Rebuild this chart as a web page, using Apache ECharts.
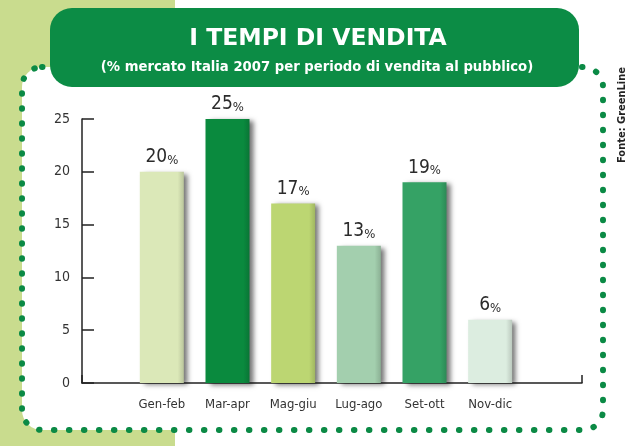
<!DOCTYPE html>
<html>
<head>
<meta charset="utf-8">
<script src="https://cdn.jsdelivr.net/npm/echarts@6/dist/echarts.min.js"></script>
<style>
  html, body { margin: 0; padding: 0; background: #fff; }
  #chart { width: 640px; height: 446px; }
</style>
</head>
<body>
<div id="chart"></div>
<script>
const categories = ['Gen-feb', 'Mar-apr', 'Mag-giu', 'Lug-ago', 'Set-ott', 'Nov-dic'];
const shares = [20, 25, 17, 13, 19, 6];
const barColors = ['#dbe8b8', '#0a8a3e', '#bcd672', '#a3cfae', '#35a265', '#dcede0'];
const yMax = 25;
const yStep = 5;

const narrow = '"DejaVu Sans Condensed", sans-serif';
const darkGreen = '#0b8a45';

// darken a hex colour a little for the right edge of each bar
const shade = (hex, f) => {
  const n = parseInt(hex.slice(1), 16);
  const c = [(n >> 16) & 255, (n >> 8) & 255, n & 255].map((v) => Math.round(v * f));
  return 'rgb(' + c.join(',') + ')';
};

const barData = shares.map((v, i) => ({
  value: v,
  itemStyle: {
    color: {
      type: 'linear', x: 0, y: 0, x2: 1, y2: 0,
      colorStops: [
        { offset: 0, color: barColors[i] },
        { offset: 0.86, color: barColors[i] },
        { offset: 1, color: shade(barColors[i], 0.85) }
      ]
    }
  }
}));

const chart = echarts.init(document.getElementById('chart'));

chart.setOption({
  animation: false,
  title: [
    {
      text: 'I TEMPI DI VENDITA',
      left: 313,
      top: 22,
      textAlign: 'center',
      textStyle: { color: '#fff', fontSize: 23.5, fontWeight: 'bold', fontFamily: '"DejaVu Sans", sans-serif' }
    },
    {
      text: '(% mercato Italia 2007 per periodo di vendita al pubblico)',
      left: 312,
      top: 55,
      textAlign: 'center',
      textStyle: { color: '#fff', fontSize: 14.7, fontWeight: 'bold', fontFamily: narrow }
    }
  ],
  graphic: [
    { type: 'rect', z: -10, shape: { x: 0, y: 0, width: 175, height: 446 }, style: { fill: '#c9dc8e' } },
    {
      type: 'rect', z: -9,
      shape: { x: 22, y: 67, width: 581, height: 363, r: 20 },
      style: { fill: '#fff', stroke: darkGreen, lineWidth: 6, lineDash: [0.5, 14.5], lineCap: 'round' }
    },
    { type: 'rect', z: -8, shape: { x: 50, y: 8, width: 529, height: 79, r: 22 }, style: { fill: '#0c8c45' } },
    {
      type: 'text', x: 622, y: 115, rotation: Math.PI / 2,
      style: {
        text: 'Fonte: GreenLine', fill: '#222', font: 'bold 11px ' + narrow,
        textAlign: 'center', textVerticalAlign: 'middle'
      }
    }
  ],
  grid: [
    { left: 82, right: 58, top: 119, bottom: 63 },
    { left: 129, right: 117, top: 119, bottom: 63 }
  ],
  xAxis: [
    {
      gridIndex: 0, type: 'value', min: 0, max: 1, interval: 1,
      axisLine: { show: true, lineStyle: { color: '#222', width: 1.5 } },
      axisTick: { show: true, inside: true, length: 8, lineStyle: { color: '#222', width: 1.5 } },
      axisLabel: { show: false },
      splitLine: { show: false }
    },
    {
      gridIndex: 1, type: 'category', data: categories,
      axisLine: { show: false },
      axisTick: { show: false },
      axisLabel: { interval: 0, margin: 15, color: '#333', fontSize: 13, fontFamily: narrow }
    }
  ],
  yAxis: [
    {
      gridIndex: 0, type: 'value', min: 0, max: yMax, interval: yStep,
      axisLine: { show: true, lineStyle: { color: '#222', width: 1.5 } },
      axisTick: { show: true, inside: true, length: 12, lineStyle: { color: '#222', width: 1.5 } },
      axisLabel: { margin: 12, color: '#333', fontSize: 14, fontFamily: narrow },
      splitLine: { show: false }
    },
    { gridIndex: 1, type: 'value', min: 0, max: yMax, interval: yStep, show: false }
  ],
  series: [
    {
      type: 'bar',
      xAxisIndex: 1,
      yAxisIndex: 1,
      barWidth: 44,
      data: barData,
      itemStyle: {
        shadowColor: 'rgba(0,0,0,0.55)',
        shadowBlur: 5,
        shadowOffsetX: 4,
        shadowOffsetY: 2
      },
      label: {
        show: true,
        position: 'top',
        distance: 5,
        formatter: (p) => '{v|' + p.value + '}{p|%}',
        rich: {
          v: { fontSize: 19, fontFamily: narrow, color: '#2b2b2b', verticalAlign: 'bottom', lineHeight: 20 },
          p: { fontSize: 13, fontFamily: narrow, color: '#2b2b2b', verticalAlign: 'bottom', lineHeight: 17 }
        }
      }
    }
  ]
});
</script>
</body>
</html>
